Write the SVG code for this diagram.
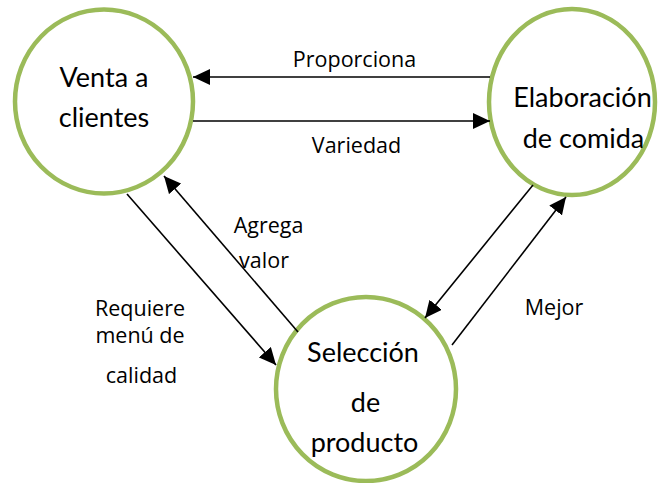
<svg xmlns="http://www.w3.org/2000/svg" width="658" height="483" viewBox="0 0 658 483">
<defs>
<marker id="ah" markerUnits="userSpaceOnUse" markerWidth="18" markerHeight="16" viewBox="0 0 18 16" refX="17" refY="8" orient="auto">
<path d="M0,0 L17,8 L0,16 Z" fill="#000"/>
</marker>
<style>
.node{fill:#fff;stroke:#9BBB59;stroke-width:4.5}
.nt{font-family:Lato,"Open Sans",sans-serif;font-size:27px;fill:#000;text-anchor:middle}
.lt{font-family:"Open Sans",Lato,sans-serif;font-size:21.5px;fill:#000;text-anchor:middle}
.c{stroke:#000;stroke-width:1.6;fill:none;marker-end:url(#ah)}
</style>
</defs>
<rect width="658" height="483" fill="#fff"/>
<g id="n1">
<ellipse class="node" cx="104" cy="101.5" rx="89" ry="92"/>
<text class="nt" x="104" y="87">Venta a</text>
<text class="nt" x="104" y="127">clientes</text>
</g>
<g id="n2">
<ellipse class="node" cx="572" cy="102" rx="83" ry="93"/>
<text class="nt" x="582.5" y="107">Elaboración</text>
<text class="nt" x="583.5" y="148">de comida</text>
</g>
<g id="n3">
<ellipse class="node" cx="366" cy="389" rx="90" ry="92"/>
<text class="nt" x="363" y="362">Selección</text>
<text class="nt" x="365.5" y="412">de</text>
<text class="nt" x="364.5" y="452">producto</text>
</g>
<g id="connectors">
<line class="c" x1="490" y1="77" x2="193" y2="77"/>
<line class="c" x1="193" y1="121" x2="490" y2="121"/>
<line class="c" x1="127" y1="194" x2="276" y2="365"/>
<line class="c" x1="298" y1="332" x2="164" y2="176"/>
<line class="c" x1="533" y1="185" x2="425" y2="318"/>
<line class="c" x1="452" y1="345" x2="566" y2="197"/>
</g>
<g id="labels">
<text class="lt" x="354.5" y="67">Proporciona</text>
<text class="lt" x="356.5" y="153">Variedad</text>
<text class="lt" x="268.5" y="233">Agrega</text>
<text class="lt" x="264" y="268">valor</text>
<text class="lt" x="554" y="315">Mejor</text>
<text class="lt" x="140" y="316">Requiere</text>
<text class="lt" x="140" y="343">menú de</text>
<text class="lt" x="141.5" y="383">calidad</text>
</g>
</svg>
